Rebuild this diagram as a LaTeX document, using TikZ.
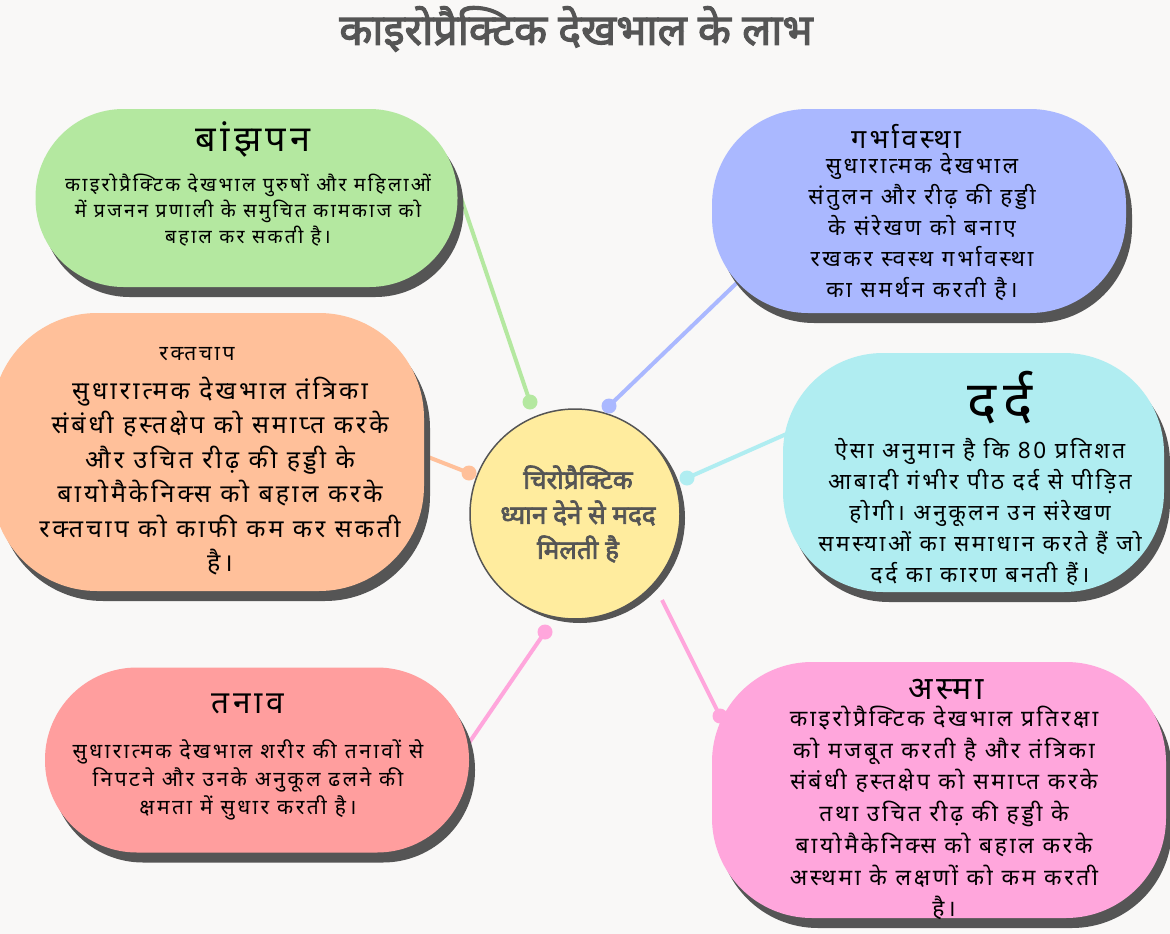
\documentclass[tikz,border=0pt]{standalone}
\usepackage{fontspec}
\setmainfont{Noto Sans}[Script=Devanagari, LetterSpace=12]
\newfontfamily\hindibold{Noto Sans}[Script=Devanagari, FakeBold=2.6]
\usetikzlibrary{shadows, backgrounds, calc}

\definecolor{MapPaper}{HTML}{F9F8F7}
\definecolor{MapShadow}{HTML}{555555}
\definecolor{MapInk}{HTML}{555555}
\definecolor{MapGreen}{HTML}{B4E8A0}
\definecolor{MapBlue}{HTML}{AAB8FF}
\definecolor{MapPeach}{HTML}{FFC09A}
\definecolor{MapCyan}{HTML}{B0EDF1}
\definecolor{MapRed}{HTML}{FF9E9E}
\definecolor{MapPink}{HTML}{FFA6DC}
\definecolor{MapYellow}{HTML}{FFEC9E}

\tikzset{
    % Topic bubble style
    bubble/.style={
        rectangle,
        fill=#1,
        inner sep=0pt,
        drop shadow={shadow xshift=6pt, shadow yshift=-10pt, fill=MapShadow, opacity=1}
    },
    % Central circle
    hubcircle/.style={
        circle,
        draw=MapShadow,
        line width=1.5pt,
        fill=MapYellow,
        minimum size=210pt,
        inner sep=0pt,
        drop shadow={shadow xshift=5pt, shadow yshift=-4pt, fill=MapShadow, opacity=1}
    },
    % Central text
    hubtext/.style={
        align=center,
        text=MapInk,
        font=\hindibold\fontsize{26}{35}\selectfont
    },
    % Title text
    titletext/.style={
        text=MapInk,
        font=\hindibold\fontsize{43}{48}\selectfont
    },
    % Bubble heading
    heading/.style={
        text=black,
        inner sep=0pt
    },
    % Bubble body text
    body/.style={
        align=center,
        text=black,
        inner sep=0pt
    },
    % Connector line
    link/.style={
        draw=#1,
        line width=4pt
    },
    % Connector dot
    knob/.style={
        circle,
        fill=#1,
        inner sep=0pt,
        minimum size=15pt
    }
}

\begin{document}
\begin{tikzpicture}[x=1pt, y=-1pt]
\useasboundingbox (0,0) rectangle (1170,934);

% Title
\node (title) [titletext] at (576,29) {काइरोप्रैक्टिक देखभाल के लाभ};

% Central idea
\node (hub) [hubcircle] at (575,514) {};
\node (hubText) [hubtext] at (578,514) {चिरोप्रैक्टिक\\ध्यान देने से मदद\\मिलती है};

% Topic bubbles
\node (infertility) [bubble=MapGreen, minimum width=422pt, minimum height=178pt, rounded corners=88pt] at (246.5,198) {};
\node (pregnancy) [bubble=MapBlue, minimum width=414pt, minimum height=204pt, rounded corners=96pt] at (919,211) {};
\node (pressure) [bubble=MapPeach, minimum width=432pt, minimum height=278pt, rounded corners=105pt] at (208,452) {};
\node (pain) [bubble=MapCyan, minimum width=381pt, minimum height=239pt, rounded corners=100pt] at (973.5,472.5) {};
\node (stress) [bubble=MapRed, minimum width=424pt, minimum height=185pt, rounded corners=92pt] at (257,760) {};
\node (asthma) [bubble=MapPink, minimum width=454pt, minimum height=256pt, rounded corners=100pt] at (939,790) {};

% Headings
\node (infertilityHead) [heading, font=\fontsize{36}{40}\selectfont] at (253,139) {बांझपन};
\node (pregnancyHead) [heading, font=\fontsize{27}{32}\selectfont] at (906,137) {गर्भावस्था};
\node (pressureHead) [heading, font=\fontsize{21}{24}\selectfont] at (197,354) {रक्तचाप};
\node (painHead) [heading, font=\fontsize{55}{60}\selectfont] at (1000,398) {दर्द};
\node (stressHead) [heading, font=\fontsize{31.5}{36}\selectfont] at (248,704) {तनाव};
\node (asthmaHead) [heading, font=\fontsize{32}{36}\selectfont] at (946,690) {अस्मा};

% Body texts
\node (infertilityText) [body, font=\fontsize{19.5}{26}\selectfont] at (248,210.5)
    {काइरोप्रैक्टिक देखभाल पुरुषों और महिलाओं\\में प्रजनन प्रणाली के समुचित कामकाज को\\बहाल कर सकती है।};
\node (pregnancyText) [body, font=\fontsize{22.5}{31}\selectfont] at (922,227.5)
    {सुधारात्मक देखभाल\\संतुलन और रीढ़ की हड्डी\\के संरेखण को बनाए\\रखकर स्वस्थ गर्भावस्था\\का समर्थन करती है।};
\node (pressureText) [body, font=\fontsize{25}{34.5}\selectfont] at (220,476)
    {सुधारात्मक देखभाल तंत्रिका\\संबंधी हस्तक्षेप को समाप्त करके\\और उचित रीढ़ की हड्डी के\\बायोमैकेनिक्स को बहाल करके\\रक्तचाप को काफी कम कर सकती\\है।};
\node (painText) [body, font=\fontsize{22.5}{31}\selectfont] at (980,512)
    {ऐसा अनुमान है कि 80 प्रतिशत\\आबादी गंभीर पीठ दर्द से पीड़ित\\होगी। अनुकूलन उन संरेखण\\समस्याओं का समाधान करते हैं जो\\दर्द का कारण बनती हैं।};
\node (stressText) [body, font=\fontsize{21}{28}\selectfont] at (248,780)
    {सुधारात्मक देखभाल शरीर की तनावों से\\निपटने और उनके अनुकूल ढलने की\\क्षमता में सुधार करती है।};
\node (asthmaText) [body, font=\fontsize{22.8}{31.7}\selectfont] at (944,813)
    {काइरोप्रैक्टिक देखभाल प्रतिरक्षा\\को मजबूत करती है और तंत्रिका\\संबंधी हस्तक्षेप को समाप्त करके\\तथा उचित रीढ़ की हड्डी के\\बायोमैकेनिक्स को बहाल करके\\अस्थमा के लक्षणों को कम करती\\है।};

% Connector dots
\node (infertilityDot) [knob=MapGreen] at (530,402) {};
\node (pregnancyDot) [knob=MapBlue] at (609,406) {};
\node (pressureDot) [knob=MapPeach] at (469,473) {};
\node (painDot) [knob=MapCyan] at (687,478) {};
\node (stressDot) [knob=MapPink] at (545,632) {};
\node (asthmaDot) [knob=MapPink] at (720,716) {};

% Connector ends tucked behind the bubbles
\coordinate (infertilityEnd) at (455,180);
\coordinate (pregnancyEnd) at (745,275);
\coordinate (pressureEnd) at (400,446);
\coordinate (painEnd) at (800,428);
\coordinate (stressEnd) at (460,756);
\coordinate (asthmaEnd) at (662,600);

\begin{scope}[on background layer]
    \fill[MapPaper] (0,0) rectangle (1170,934);
    \draw[link=MapGreen] (infertilityDot.center) -- (infertilityEnd);
    \draw[link=MapBlue] (pregnancyDot.center) -- (pregnancyEnd);
    \draw[link=MapPeach] (pressureDot.center) -- (pressureEnd);
    \draw[link=MapCyan] (painDot.center) -- (painEnd);
    \draw[link=MapPink] (stressDot.center) -- (stressEnd);
    \draw[link=MapPink] (asthmaDot.center) -- (asthmaEnd);
\end{scope}
\end{tikzpicture}
\end{document}
